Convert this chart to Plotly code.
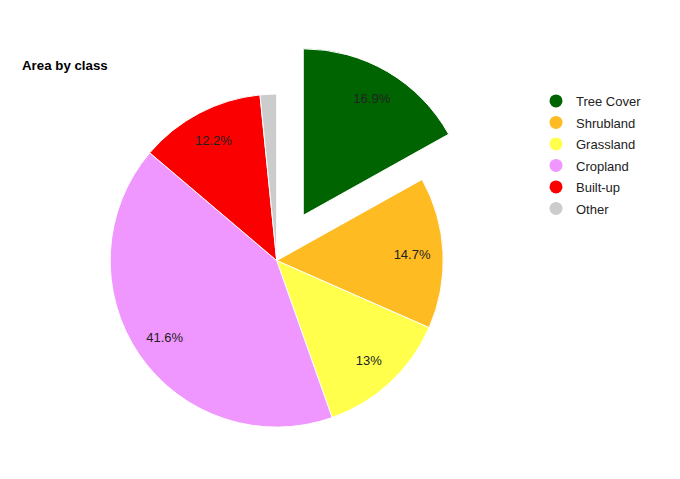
import plotly.graph_objects as go

# area share by land-cover class (percent)
classes = ["Tree Cover", "Shrubland", "Grassland", "Cropland", "Built-up", "Other"]
shares = [16.9, 14.7, 13.0, 41.6, 12.2, 1.6]
colors = ["#006400", "#ffbb22", "#ffff4c", "#f096ff", "#fa0000", "#cccccc"]
pulls = [0.315, 0, 0, 0, 0, 0]

labels_txt = ["%g%%" % v if v >= 5 else "" for v in shares]

dom_x = [0.0731, 0.7172]
dom_y = [0.0155, 0.9299]

fig = go.Figure()

# the coloured slices
fig.add_trace(go.Pie(
    labels=classes, values=shares, sort=False, direction="clockwise", rotation=0,
    pull=pulls, marker=dict(colors=colors, line=dict(color="white", width=1)),
    textinfo="none", showlegend=False, domain=dict(x=dom_x, y=dom_y),
    hoverinfo="label+percent",
))

# transparent donut on top: puts the labels at ~0.8 r like the original
fig.add_trace(go.Pie(
    labels=classes, values=shares, sort=False, direction="clockwise", rotation=0,
    pull=pulls, hole=0.63,
    marker=dict(colors=["rgba(0,0,0,0)"] * len(classes), line=dict(width=0)),
    text=labels_txt, textinfo="text", textposition="inside",
    insidetextorientation="horizontal",
    insidetextfont=dict(family="Liberation Sans, Arial", size=13, color="#222222"),
    showlegend=False, domain=dict(x=dom_x, y=dom_y), hoverinfo="skip",
))

# legend entries with round markers
for name, col in zip(classes, colors):
    fig.add_trace(go.Scatter(
        x=[None], y=[None], mode="markers", name=name, legendgroup=name,
        marker=dict(symbol="circle", size=13, color=col),
    ))

fig.update_layout(
    width=680, height=479,
    margin=dict(l=0, r=0, t=0, b=0),
    paper_bgcolor="white", plot_bgcolor="white",
    font=dict(family="Liberation Sans, Arial", size=13, color="#222222"),
    title=dict(text="<b>Area by class</b>", x=14 / 680, xanchor="left", xref="paper",
               y=1 - 57 / 479, yanchor="middle", yref="container",
               font=dict(size=13.3, color="#000000")),
    xaxis=dict(visible=False), yaxis=dict(visible=False),
    legend=dict(x=528 / 680, xanchor="left", y=1 - 78 / 479, yanchor="top",
                tracegroupgap=1.6, itemwidth=30,
                font=dict(size=13, color="#222222")),
)

fig.write_html("out.html")
